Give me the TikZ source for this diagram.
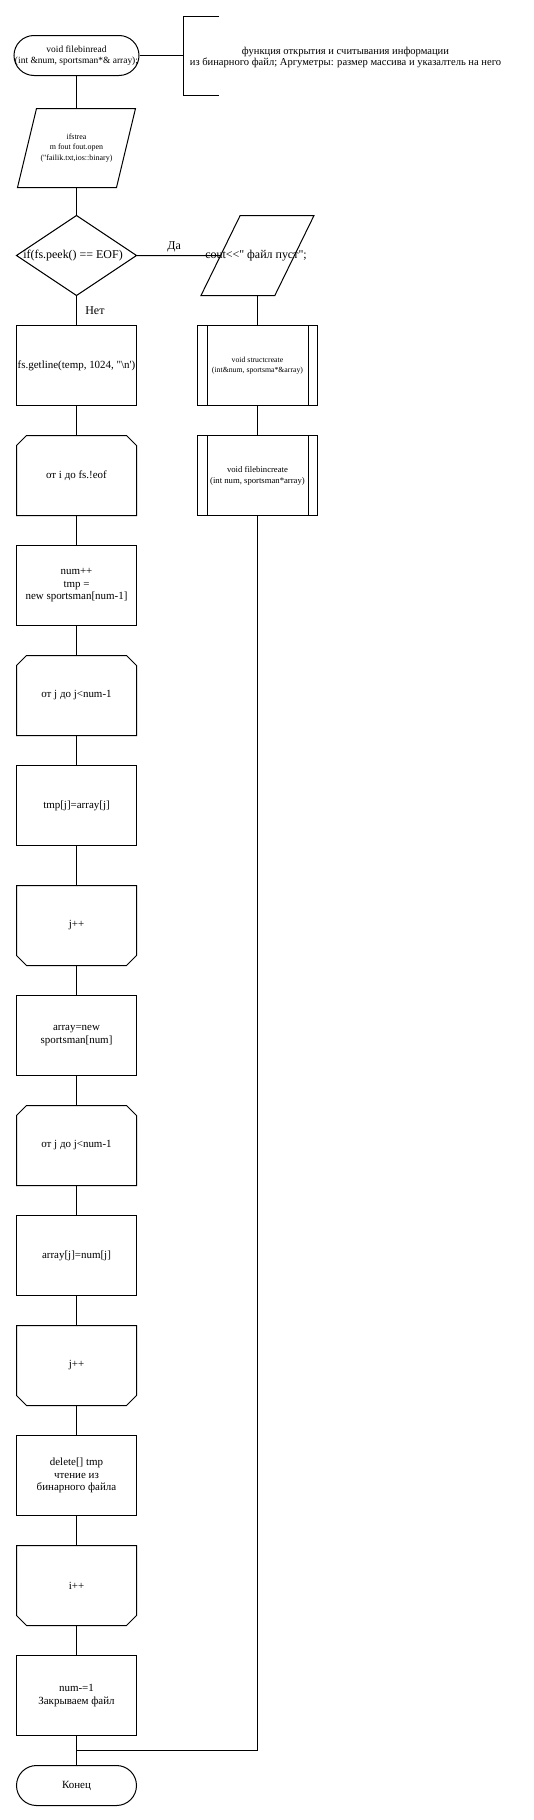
\documentclass[tikz,border=0pt]{standalone}
\usepackage{fontspec}
\setmainfont{Liberation Serif}[Ligatures=TeXOff]
\usetikzlibrary{positioning,shapes.geometric}

\begin{document}
\begin{tikzpicture}[-,line width=1bp,auto,node distance=110bp,
    box node/.style={rectangle,draw,minimum width=120bp,minimum height=80bp,inner sep=1bp,align=center,font=\fontsize{11}{12.5}\selectfont},
    term node/.style={box node,rounded corners=20bp,minimum height=40bp},
    shape node/.style={box node,draw=none,outer sep=0pt},
    io node/.style={trapezium,draw,trapezium stretches=true,inner sep=1bp,align=center},
    sub node/.style={box node,font=\fontsize{8.7}{11}\selectfont},
    brace node/.style={minimum width=35bp,minimum height=78bp,inner sep=0pt},
    note node/.style={align=center,font=\fontsize{10.6}{10.6}\selectfont}]
            \useasboundingbox (0,0) rectangle (534bp,-1820bp);

            \node[term node, minimum width=118bp, font=\fontsize{9.5}{11}\selectfont] (start) at (76.5bp,-55.5bp) {void filebinread\\(int \&num, sportsman*\& array);};
            \node[shape node, minimum width=118bp, minimum height=79bp, font=\fontsize{8}{10.5}\selectfont] (in) [below of = start, yshift=17.5bp] {ifstrea\\m fout fout.open\\("failik.txt,ios::binary)};
            \node[shape node, font=\fontsize{12}{15}\selectfont] (dec) [below of = in, yshift=2.5bp] {if(fs.peek() == EOF)\hspace{7bp}};
            \node[box node] (get) [below of = dec] {fs.getline(temp, 1024, "\textbackslash n')};
            \node[shape node] (loopi) [below of = get] {от i до fs.!eof};
            \node[box node] (grow) [below of = loopi] {num++\\tmp =\\new sportsman[num-1]};
            \node[shape node] (loopj) [below of = grow] {от j до j<num-1};
            \node[box node] (copy) [below of = loopj] {tmp[j]=array[j]};
            \node[shape node] (incj) [below of = copy, yshift=-10bp] {j++};
            \node[box node] (alloc) [below of = incj] {array=new\\sportsman[num]};
            \node[shape node] (loopk) [below of = alloc] {от j до j<num-1};
            \node[box node] (back) [below of = loopk] {array[j]=num[j]};
            \node[shape node] (inck) [below of = back] {j++};
            \node[box node] (del) [below of = inck] {delete[] tmp\\чтение из\\бинарного файла};
            \node[shape node] (inci) [below of = del] {i++};
            \node[box node] (close) [below of = inci] {num-=1\\Закрываем файл};
            \node[term node] (end) [below of = close, yshift=20bp] {Конец};
            \coordinate[below of = close, yshift=55bp] (join);

            % outlines of the input block, the condition and the loop limits
            \draw (in.south west) -- ([xshift=-19bp]in.south east) -- (in.north east) -- ([xshift=19bp]in.north west) -- cycle;
            \draw (dec.north) -- (dec.east) -- (dec.south) -- (dec.west) -- cycle;
            \foreach \n in {loopi,loopj,loopk}
                \draw ([yshift=-10bp]\n.north west) -- ([xshift=10bp]\n.north west) -- ([xshift=-10bp]\n.north east) -- ([yshift=-10bp]\n.north east) -- (\n.south east) -- (\n.south west) -- cycle;
            \foreach \n in {incj,inck,inci}
                \draw ([yshift=10bp]\n.south west) -- ([xshift=10bp]\n.south west) -- ([xshift=-10bp]\n.south east) -- ([yshift=10bp]\n.south east) -- (\n.north east) -- (\n.north west) -- cycle;

            \node[io node, minimum width=113bp, minimum height=80bp, trapezium left angle=80.8, trapezium right angle=99.2, label={[font=\fontsize{12}{14}\selectfont, xshift=-1.5bp]center:{cout<<" файл пуст";}}] (out) [right of = dec, xshift=71bp] {\strut};
            \node[sub node, font=\fontsize{7.8}{10}\selectfont] (s1) [below of = out] {void structcreate\\(int\&num, sportsma*\&array)};
            \node[sub node] (s2) [below of = s1] {void filebincreate\\(int num, sportsman*array)};
            \foreach \n in {s1,s2} {
                \draw ([xshift=10bp]\n.north west) -- ([xshift=10bp]\n.south west);
                \draw ([xshift=-10bp]\n.north east) -- ([xshift=-10bp]\n.south east);
            }

            \node[brace node] (brace) [right of = start, xshift=14.5bp] {};
            \node[note node] (note) [right of = brace, xshift=34.5bp, yshift=-2bp] {функция открытия и считывания информации\\из бинарного файл; Аргуметры: размер массива и указалтель на него};
            \draw (brace.north east) -- (brace.north west) -- (brace.south west) -- (brace.south east);

            \path[every node/.style={font=\fontsize{12}{14}\selectfont}]
                (start) edge (brace)
                (start) edge (in)
                (in) edge (dec)
                (dec) edge node[right, xshift=5bp] {Нет} (get)
                (dec) edge node[above, pos=0.45] {Да} (out)
                (get) edge (loopi)
                (loopi) edge (grow)
                (grow) edge (loopj)
                (loopj) edge (copy)
                (copy) edge (incj)
                (incj) edge (alloc)
                (alloc) edge (loopk)
                (loopk) edge (back)
                (back) edge (inck)
                (inck) edge (del)
                (del) edge (inci)
                (inci) edge (close)
                (close) edge (end)
                (out) edge (s1)
                (s1) edge (s2)
                ;
            \draw (s2) |- (join);
        \end{tikzpicture}
\end{document}
